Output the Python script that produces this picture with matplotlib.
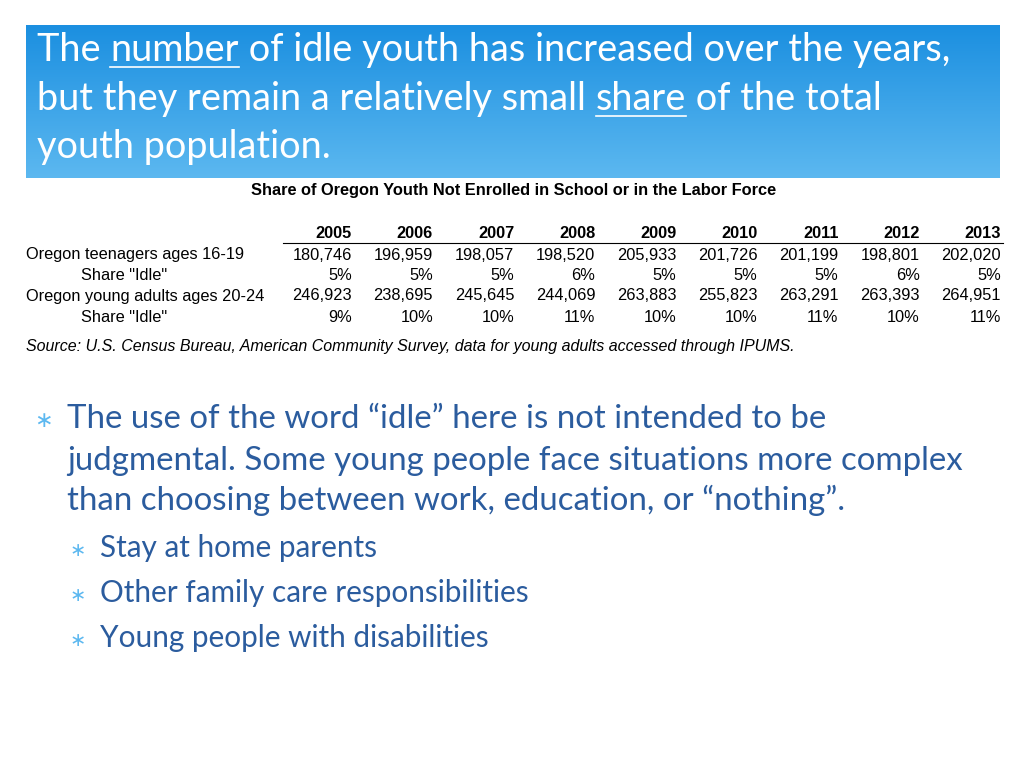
import matplotlib
matplotlib.use("Agg")
import matplotlib.pyplot as plt
import numpy as np
from matplotlib.colors import LinearSegmentedColormap

years = ["2005","2006","2007","2008","2009","2010","2011","2012","2013"]
teens = ["180,746","196,959","198,057","198,520","205,933","201,726","201,199","198,801","202,020"]
teen_share = ["5%","5%","5%","6%","5%","5%","5%","6%","5%"]
adults = ["246,923","238,695","245,645","244,069","263,883","255,823","263,291","263,393","264,951"]
adult_share = ["9%","10%","10%","11%","10%","10%","11%","10%","11%"]
row_labels = ["Oregon teenagers ages 16-19", "Share \"Idle\"", "Oregon young adults ages 20-24", "Share \"Idle\""]

fig = plt.figure(figsize=(10.24, 7.68), dpi=100)
ax = fig.add_axes([0, 0, 1, 1])
ax.set_xlim(0, 1024); ax.set_ylim(768, 0); ax.axis("off")

grad = np.linspace(0, 1, 256).reshape(-1, 1)
cm = LinearSegmentedColormap.from_list("b", ["#1b8fe0", "#5cb8f0"])
ax.imshow(grad, cmap=cm, extent=[26, 1000, 178, 25], aspect="auto", zorder=0)
ax.set_xlim(0, 1024); ax.set_ylim(768, 0)

fig.canvas.draw()
r = fig.canvas.get_renderer()
inv = ax.transData.inverted()
TF = dict(fontsize=27.3, color="white", family="Lato", va="baseline")

def seq(x, y, parts, **kw):
    for txt, ul in parts:
        t = ax.text(x, y, txt, **kw)
        bb = t.get_window_extent(r)
        (x0, _), (x1, _) = inv.transform([[bb.x0, 0], [bb.x1, 0]])
        if ul:
            ax.plot([x0, x1], [y + 6, y + 6], color=kw["color"], lw=1.2)
        x = x1

seq(37, 61, [("The ", False), ("number", True), (" of idle youth has increased over the years,", False)], **TF)
seq(37, 110, [("but they remain a relatively small ", False), ("share", True), (" of the total", False)], **TF)
seq(37, 158, [("youth population.", False)], **TF)

A = dict(family="Liberation Sans", fontsize=11.8, color="black", va="center")
ax.text(514, 191, "Share of Oregon Youth Not Enrolled in School or in the Labor Force", ha="center", weight="bold", **A)
xr = [352 + 81.1 * i for i in range(9)]
for i, yv in enumerate(years):
    ax.text(xr[i], 234, yv, ha="right", weight="bold", **A)
ax.plot([283, 1003], [243, 243], color="black", lw=0.8)
rows_y = [255, 275, 296, 317]
data = [teens, teen_share, adults, adult_share]
lab_x = [26, 81, 26, 81]
for j in range(4):
    ax.text(lab_x[j], rows_y[j], row_labels[j], ha="left", **A)
    for i in range(9):
        ax.text(xr[i], rows_y[j], data[j][i], ha="right", **A)
ax.text(26, 347, "Source: U.S. Census Bureau, American Community Survey, data for young adults accessed through IPUMS.",
        ha="left", style="italic", **{**A, "fontsize": 11.5})

BC = "#2b5c9e"
B = dict(family="Lato", fontsize=23.8, color=BC, va="baseline")
ax.text(34, 427, "∗", fontsize=16, color="#5cb8f0", va="baseline")
ax.text(67, 428, "The use of the word “idle” here is not intended to be", **B)
ax.text(67, 470, "judgmental. Some young people face situations more complex", **B)
ax.text(67, 510, "than choosing between work, education, or “nothing”.", **B)
for k, s in enumerate(["Stay at home parents", "Other family care responsibilities", "Young people with disabilities"]):
    y = 557 + 45 * k
    ax.text(70, y - 1, "∗", fontsize=14, color="#5cb8f0", va="baseline")
    ax.text(100, y, s, **{**B, "fontsize": 21.4})

fig.savefig("out.png", dpi=100)
